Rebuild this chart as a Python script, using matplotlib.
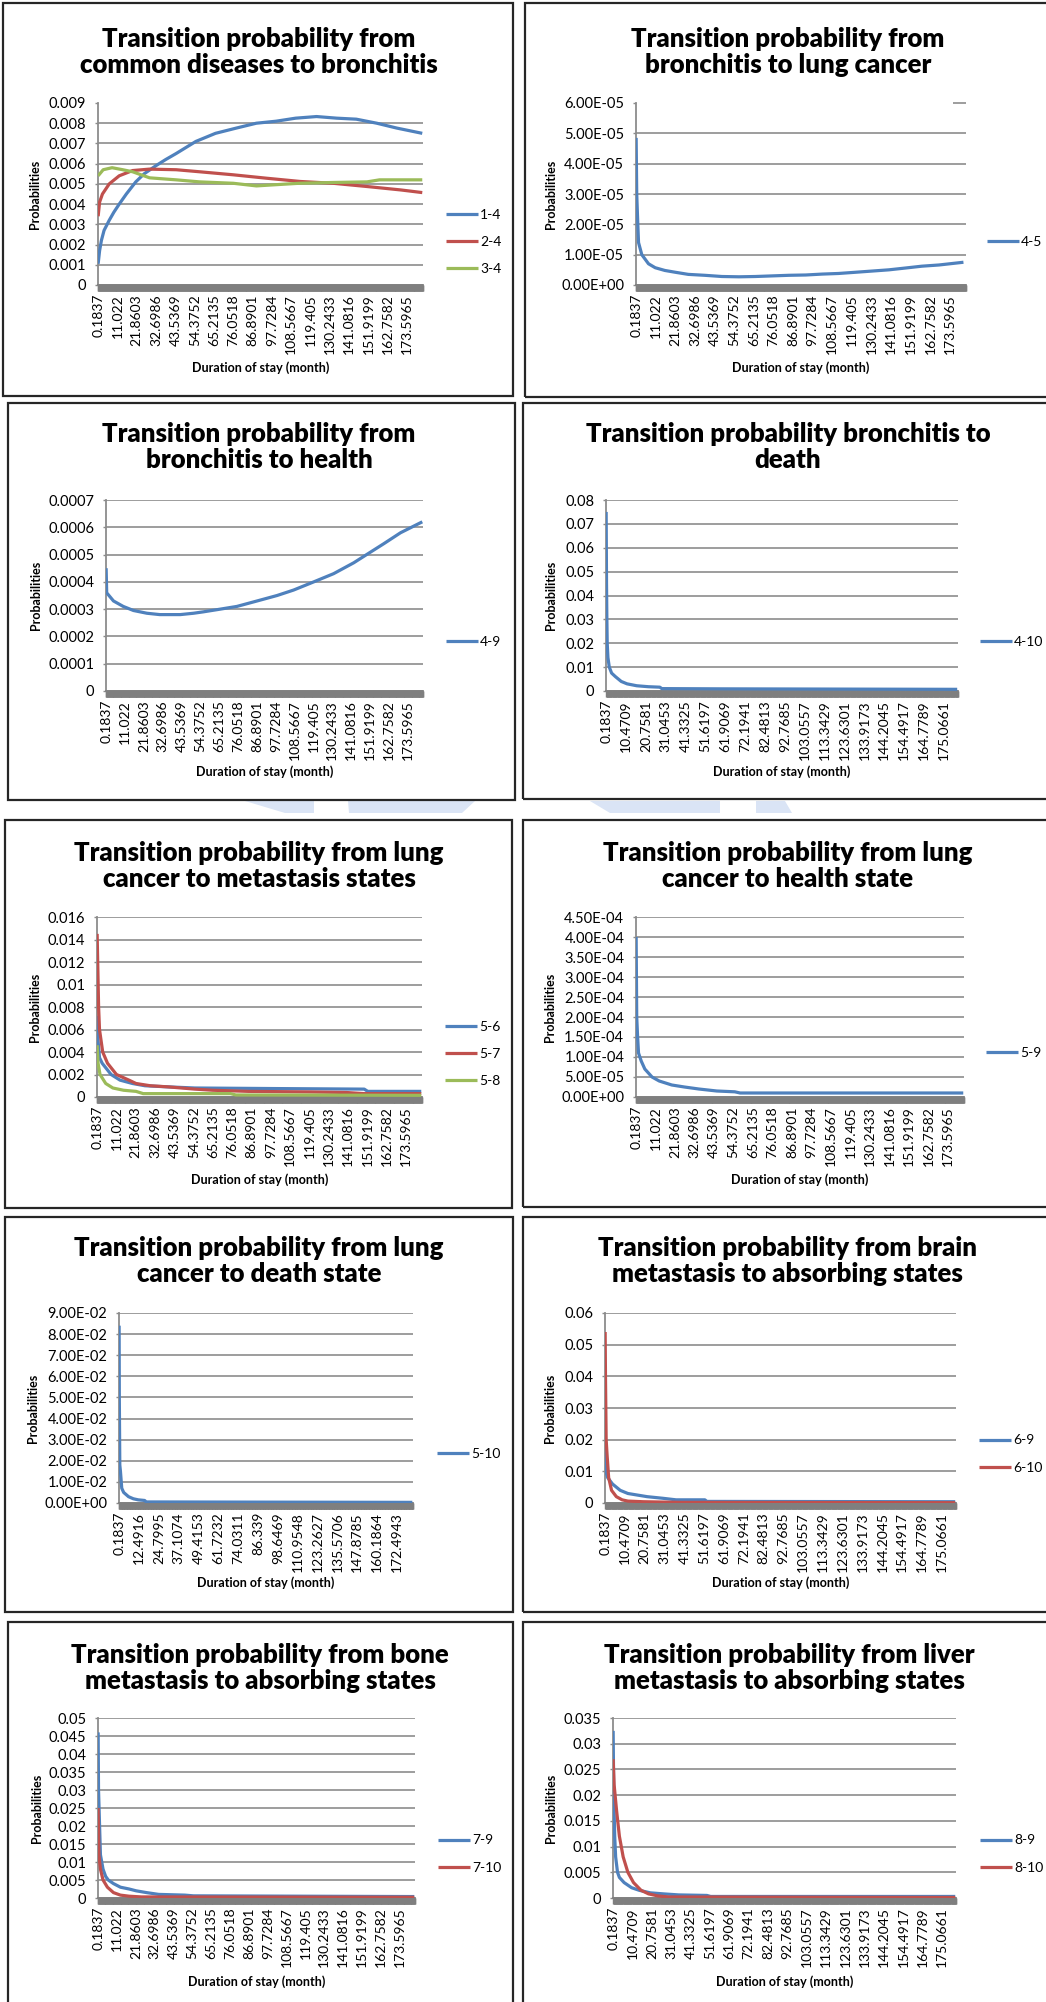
import numpy as np
import matplotlib
matplotlib.use('Agg')
import matplotlib.pyplot as plt
from matplotlib.patches import Rectangle, Polygon

plt.rcParams['font.family'] = ['Lato', 'DejaVu Sans']

W, H = 1046, 2002
DT = 0.1837          # width of one category (month)
N_CAT = 993          # number of categories on the x axis
categories = np.arange(1, N_CAT + 1) * DT

BLUE, RED, GREEN = '#4F81BD', '#C0504D', '#9BBB59'

# x tick labels (Excel shows every n-th category)
ticks_a = ['0.1837', '11.022', '21.8603', '32.6986', '43.5369', '54.3752', '65.2135',
           '76.0518', '86.8901', '97.7284', '108.5667', '119.405', '130.2433',
           '141.0816', '151.9199', '162.7582', '173.5965']
ticks_b = ['0.1837', '10.4709', '20.7581', '31.0453', '41.3325', '51.6197', '61.9069',
           '72.1941', '82.4813', '92.7685', '103.0557', '113.3429', '123.6301',
           '133.9173', '144.2045', '154.4917', '164.7789', '175.0661']
ticks_c = ['0.1837', '12.4916', '24.7995', '37.1074', '49.4153', '61.7232', '74.0311',
           '86.339', '98.6469', '110.9548', '123.2627', '135.5706', '147.8785',
           '160.1864', '172.4943']

# --- series (month, probability) ---
x14 = [0.18, 1, 2, 3.5, 6.4, 9, 12, 16, 21.3, 26, 32.6, 38, 43.9, 55, 66, 77.7, 88.9,
       100, 111, 122.7, 134, 145, 156.5, 167.7, 182]
y14 = [0.00105, 0.0017, 0.0022, 0.0027, 0.0032, 0.0036, 0.0040, 0.0045, 0.0051, 0.0055,
       0.0059, 0.0062, 0.0065, 0.0071, 0.0075, 0.00776, 0.0080, 0.0081, 0.00825, 0.00833,
       0.00825, 0.0082, 0.0080, 0.00776, 0.0075]
x24 = [0.18, 1, 2.6, 6.4, 12, 19.5, 28.9, 44, 57, 75.9, 94.7, 113.5, 132, 151, 170, 182]
y24 = [0.0034, 0.0041, 0.0045, 0.0050, 0.0054, 0.00566, 0.00573, 0.0057, 0.0056, 0.00545,
       0.00528, 0.00512, 0.00503, 0.00487, 0.0047, 0.00457]
x34 = [0.18, 3, 8, 14, 19.5, 29, 44, 57, 76, 89, 98, 113, 132, 151, 158, 182]
y34 = [0.0054, 0.0057, 0.0058, 0.0057, 0.0056, 0.0053, 0.0052, 0.0051, 0.00503, 0.0049,
       0.00495, 0.00503, 0.00507, 0.0051, 0.0052, 0.0052]

x45 = [0.18, 0.5, 1.1, 1.5, 3.3, 7, 10.7, 16, 21.8, 29, 38, 47.6, 57, 66, 75.3, 84.7,
       93.9, 103, 112, 121.4, 130.6, 139.8, 149, 158, 167.5, 181]
y45 = [4.85e-5, 3.0e-5, 2.0e-5, 1.4e-5, 1.0e-5, 7e-6, 5.7e-6, 4.8e-6, 4.2e-6, 3.5e-6,
       3.2e-6, 2.8e-6, 2.7e-6, 2.8e-6, 3.0e-6, 3.2e-6, 3.3e-6, 3.6e-6, 3.8e-6, 4.2e-6,
       4.6e-6, 5.0e-6, 5.6e-6, 6.2e-6, 6.6e-6, 7.5e-6]

x49 = [0.18, 0.5, 4.4, 10, 15.9, 23.6, 31, 42.8, 50.5, 56, 65.8, 75.4, 87, 98.5, 108,
       119.6, 131, 142.6, 150, 159.9, 169.5, 182]
y49 = [0.00045, 0.00036, 0.00033, 0.00031, 0.000295, 0.000285, 0.00028, 0.00028, 0.000285,
       0.00029, 0.0003, 0.00031, 0.00033, 0.00035, 0.00037, 0.0004, 0.00043, 0.00047,
       0.0005, 0.00054, 0.00058, 0.00062]

x410 = [0.18, 0.37, 0.55, 0.73, 1.1, 1.8, 3, 5, 8, 11, 16, 22, 28, 29, 60, 120, 182]
y410 = [0.075, 0.045, 0.03, 0.02, 0.014, 0.01, 0.0075, 0.006, 0.004, 0.003, 0.0022,
        0.0018, 0.0016, 0.001, 0.0009, 0.0008, 0.0007]

x56 = [0.18, 0.7, 1.5, 3, 8, 13, 20, 27, 40, 55, 100, 150, 152, 182]
y56 = [0.0072, 0.005, 0.0035, 0.003, 0.002, 0.0015, 0.0012, 0.001, 0.0009, 0.0008,
       0.00075, 0.0007, 0.0005, 0.0005]
x57 = [0.18, 1, 1.5, 3.3, 6, 11, 18, 22, 30, 40, 55, 65, 85, 120, 140, 150, 182]
y57 = [0.0145, 0.008, 0.006, 0.004, 0.003, 0.002, 0.0015, 0.0012, 0.001, 0.0009, 0.0007,
       0.0006, 0.0005, 0.00045, 0.0004, 0.0003, 0.0003]
x58 = [0.18, 0.7, 1.8, 5, 9, 15, 22, 26, 75, 78, 182]
y58 = [0.0046, 0.003, 0.002, 0.0012, 0.0008, 0.0006, 0.0005, 0.0003, 0.0003, 0.00018,
       0.00015]

x59 = [0.18, 0.5, 1, 1.5, 3, 5, 9, 13, 20, 27, 35, 45, 55, 58, 182]
y59 = [4e-4, 2e-4, 1.5e-4, 1.1e-4, 9e-5, 7e-5, 5e-5, 4e-5, 3e-5, 2.5e-5, 2e-5, 1.5e-5,
       1.3e-5, 1e-5, 1e-5]

x510 = [0.18, 0.3, 0.6, 1, 1.8, 3, 6, 9, 12, 16, 17, 182]
y510 = [0.084, 0.05, 0.018, 0.015, 0.007, 0.005, 0.003, 0.002, 0.0015, 0.0012, 0.0005,
        0.0003]

x69 = [0.18, 0.5, 1.5, 4, 8, 12, 17, 22, 30, 37, 52, 53, 182]
y69 = [0.027, 0.01, 0.008, 0.006, 0.004, 0.003, 0.0025, 0.002, 0.0015, 0.001, 0.001,
       0.0005, 0.0004]
x610 = [0.18, 0.35, 0.7, 1.2, 2, 3.5, 6, 9, 12, 20, 40, 182]
y610 = [0.054, 0.04, 0.02, 0.015, 0.008, 0.004, 0.002, 0.001, 0.0006, 0.0004, 0.0002,
        0.0001]

x79 = [0.18, 0.4, 1.5, 3, 4.5, 6, 9, 13, 18, 22, 28, 35, 50, 55, 182]
y79 = [0.046, 0.03, 0.012, 0.008, 0.006, 0.005, 0.004, 0.003, 0.0025, 0.002, 0.0015,
       0.001, 0.0008, 0.0006, 0.0004]
x710 = [0.18, 0.6, 1.5, 3, 5.5, 9, 13, 18, 25, 182]
y710 = [0.025, 0.012, 0.008, 0.005, 0.003, 0.0015, 0.0008, 0.0005, 0.0003, 0.0002]

x89 = [0.18, 0.5, 1, 1.5, 2.5, 3.5, 6, 10, 14, 20, 27, 35, 50, 52, 182]
y89 = [0.0325, 0.02, 0.012, 0.008, 0.005, 0.004, 0.003, 0.002, 0.0015, 0.001, 0.0008,
       0.0006, 0.0005, 0.0003, 0.0003]
x810 = [0.18, 0.7, 2, 3.5, 5.5, 8, 11, 15, 19, 24, 30, 182]
y810 = [0.027, 0.022, 0.017, 0.012, 0.008, 0.005, 0.003, 0.0015, 0.0008, 0.0004, 0.0002,
        0.0001]

# y tick values per chart
yt1 = [0, 0.001, 0.002, 0.003, 0.004, 0.005, 0.006, 0.007, 0.008, 0.009]
yt2 = [0, 1e-5, 2e-5, 3e-5, 4e-5, 5e-5, 6e-5]
yt3 = [0, 0.0001, 0.0002, 0.0003, 0.0004, 0.0005, 0.0006, 0.0007]
yt4 = [0, 0.01, 0.02, 0.03, 0.04, 0.05, 0.06, 0.07, 0.08]
yt5 = [0, 0.002, 0.004, 0.006, 0.008, 0.01, 0.012, 0.014, 0.016]
yt6 = [0, 5e-5, 1e-4, 1.5e-4, 2e-4, 2.5e-4, 3e-4, 3.5e-4, 4e-4, 4.5e-4]
yt7 = [0, 0.01, 0.02, 0.03, 0.04, 0.05, 0.06, 0.07, 0.08, 0.09]
yt8 = [0, 0.01, 0.02, 0.03, 0.04, 0.05, 0.06]
yt9 = [0, 0.005, 0.01, 0.015, 0.02, 0.025, 0.03, 0.035, 0.04, 0.045, 0.05]
yt10 = [0, 0.005, 0.01, 0.015, 0.02, 0.025, 0.03, 0.035]

charts = [
    dict(title='Transition probability from\ncommon diseases to bronchitis',
         series=[('1-4', x14, y14, BLUE), ('2-4', x24, y24, RED), ('3-4', x34, y34, GREEN)],
         yt=yt1, sci=False, xt=ticks_a, top_grid=False),
    dict(title='Transition probability from\nbronchitis to lung cancer',
         series=[('4-5', x45, y45, BLUE)], yt=yt2, sci=True, xt=ticks_a, top_grid='stub'),
    dict(title='Transition probability from\nbronchitis to health',
         series=[('4-9', x49, y49, BLUE)], yt=yt3, sci=False, xt=ticks_a),
    dict(title='Transition probability bronchitis to\ndeath',
         series=[('4-10', x410, y410, BLUE)], yt=yt4, sci=False, xt=ticks_b),
    dict(title='Transition probability from lung\ncancer to metastasis states',
         series=[('5-6', x56, y56, BLUE), ('5-7', x57, y57, RED), ('5-8', x58, y58, GREEN)],
         yt=yt5, sci=False, xt=ticks_a),
    dict(title='Transition probability from lung\ncancer to health state',
         series=[('5-9', x59, y59, BLUE)], yt=yt6, sci=True, xt=ticks_a),
    dict(title='Transition probability from lung\ncancer to death state',
         series=[('5-10', x510, y510, BLUE)], yt=yt7, sci=True, xt=ticks_c),
    dict(title='Transition probability from brain\nmetastasis to absorbing states',
         series=[('6-9', x69, y69, BLUE), ('6-10', x610, y610, RED)],
         yt=yt8, sci=False, xt=ticks_b),
    dict(title='Transition probability from bone\nmetastasis to absorbing states',
         series=[('7-9', x79, y79, BLUE), ('7-10', x710, y710, RED)],
         yt=yt9, sci=False, xt=ticks_a),
    dict(title='Transition probability from liver\nmetastasis to absorbing states',
         series=[('8-9', x89, y89, BLUE), ('8-10', x810, y810, RED)],
         yt=yt10, sci=False, xt=ticks_b),
]

# layout in pixels: box(l,t,r,b), axes(l,t,r,b), title centre (x,y), ylabel x, xlabel y, legend (x, y)
layout = [
    dict(box=(3, 3, 513, 396), ax=(98, 103, 423, 285), tc=(259, 52), yl=35, xl=368, lg=(446, 242)),
    dict(box=(525, 3, 1060, 397), ax=(636, 103, 966, 285), tc=(788, 52), yl=551, xl=368, lg=(987, 242)),
    dict(box=(8, 403, 515, 800), ax=(106, 500, 423, 691), tc=(259, 447), yl=36, xl=772, lg=(446, 642)),
    dict(box=(523, 403, 1060, 799), ax=(606, 500, 958, 691), tc=(788, 447), yl=551, xl=772, lg=(980, 642)),
    dict(box=(5, 820, 512, 1208), ax=(97, 917, 422, 1097), tc=(259, 866), yl=35, xl=1180, lg=(445, 1054)),
    dict(box=(523, 820, 1060, 1207), ax=(636, 917, 964, 1097), tc=(788, 866), yl=550, xl=1180, lg=(986, 1053)),
    dict(box=(5, 1217, 513, 1612), ax=(119, 1313, 413, 1503), tc=(259, 1261), yl=33, xl=1583, lg=(437, 1454)),
    dict(box=(523, 1217, 1060, 1612), ax=(605, 1313, 956, 1503), tc=(787, 1261), yl=550, xl=1583, lg=(979, 1454)),
    dict(box=(8, 1622, 513, 2020), ax=(98, 1718, 415, 1898), tc=(260, 1668), yl=37, xl=1982, lg=(438, 1854)),
    dict(box=(523, 1622, 1060, 2020), ax=(613, 1718, 956, 1898), tc=(789, 1668), yl=551, xl=1982, lg=(980, 1854)),
]

GRID = '#8c8c8c'

fig = plt.figure(figsize=(W / 100, H / 100), dpi=100)
fig.patch.set_facecolor('white')

# faint watermark pieces between the 2nd and 3rd rows
for pts in [[(245, 801), (314, 801), (314, 813), (285, 813)],
            [(348, 801), (475, 801), (462, 813), (349, 813)],
            [(590, 801), (720, 801), (720, 813), (610, 813)],
            [(756, 801), (785, 801), (792, 813), (756, 813)]]:
    fig.patches.append(Polygon([(x / W, 1 - y / H) for x, y in pts], closed=True,
                               transform=fig.transFigure, facecolor='#dae4f5',
                               edgecolor='none', zorder=0))

for ch, lo in zip(charts, layout):
    bl, bt, br, bb = lo['box']
    fig.patches.append(Rectangle((bl / W, 1 - bb / H), (br - bl) / W, (bb - bt) / H,
                                 transform=fig.transFigure, facecolor='none',
                                 edgecolor='#262626', lw=1.6, zorder=1))
    al, at, ar, ab = lo['ax']
    ax = fig.add_axes([al / W, 1 - ab / H, (ar - al) / W, (ab - at) / H])

    for lab, xs, ys, col in ch['series']:
        ax.plot(xs, ys, color=col, lw=2.3, label=lab, solid_capstyle='butt',
                solid_joinstyle='round', zorder=3)

    yt = ch['yt']
    ax.set_ylim(yt[0], yt[-1])
    ax.set_yticks(yt)
    if ch['sci']:
        ax.set_yticklabels(['%.2E' % v for v in yt])
    else:
        ax.set_yticklabels(['%g' % v for v in yt])
    ax.set_xlim(0.1, categories[-1])
    xt = ch['xt']
    ax.set_xticks([float(s) for s in xt])
    ax.set_xticklabels(xt, rotation=90)
    ax.set_xticks(categories, minor=True)

    for s in ['top', 'right']:
        ax.spines[s].set_visible(False)
    ax.spines['left'].set_color(GRID)
    ax.spines['left'].set_linewidth(1.3)
    ax.spines['bottom'].set_color('#7f7f7f')
    ax.spines['bottom'].set_linewidth(1.3)

    ax.tick_params(axis='x', which='both', length=4.5, width=1, color='#7f7f7f',
                   labelsize=10, pad=2)
    ax.tick_params(axis='y', length=2.5, width=1, color=GRID, labelsize=10.5, pad=6)

    ax.grid(axis='y', color=GRID, lw=1.2)
    ax.set_axisbelow(True)
    if ch.get('top_grid', True) is not True:
        ax.yaxis.get_gridlines()[-1].set_visible(False)
    if ch.get('top_grid') == 'stub':
        ax.hlines(yt[-1], 175, categories[-1], color=GRID, lw=1.2, clip_on=False)

    fig.text(lo['tc'][0] / W, 1 - lo['tc'][1] / H, ch['title'], ha='center', va='center',
             fontsize=18.5, fontweight='heavy', linespacing=1.1)
    fig.text(lo['yl'] / W, 1 - (at + ab) / 2 / H, 'Probabilities', rotation=90,
             ha='center', va='center', fontsize=9, fontweight='bold')
    fig.text((al + ar) / 2 / W, 1 - lo['xl'] / H, 'Duration of stay (month)',
             ha='center', va='center', fontsize=9, fontweight='bold')

    ax.legend(loc='center left', bbox_to_anchor=(lo['lg'][0] / W, 1 - lo['lg'][1] / H),
              bbox_transform=fig.transFigure, frameon=False, fontsize=10,
              handlelength=2.3, handletextpad=0.15, labelspacing=1.1,
              borderpad=0, borderaxespad=0)

fig.savefig('out.png', dpi=100, facecolor='white')
